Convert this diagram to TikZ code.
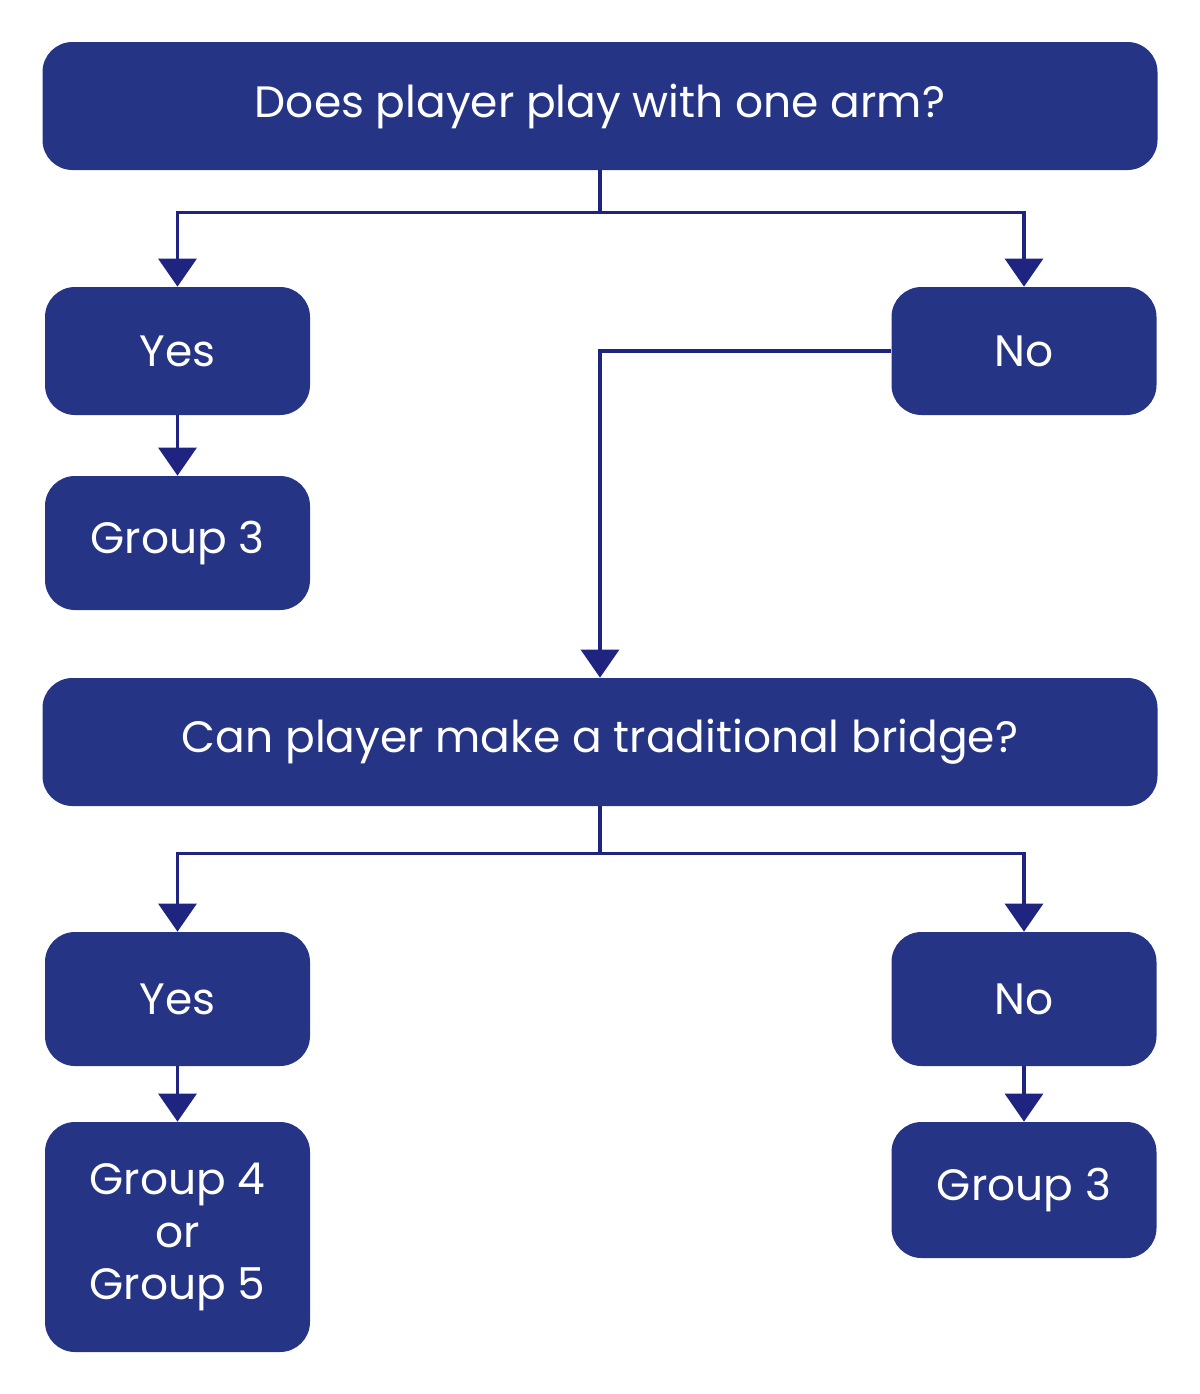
\documentclass[tikz,border=0pt]{standalone}
\usepackage{fontspec}
\setmainfont{Poppins}
\usetikzlibrary{arrows.meta,positioning,calc}
\definecolor{flowNavy}{RGB}{38,52,133}
\definecolor{lineNavy}{RGB}{30,36,128}

\begin{document}
\begin{tikzpicture}[
    every node/.style={font=\fontsize{25}{29.8}\selectfont, align=center,
      rounded corners=0.6cm, inner sep=2pt},
    box/.style={fill=flowNavy, text=white, minimum width=5.3cm, minimum height=2.56cm},
    wide/.style={box, minimum width=22.3cm},
    link/.style={lineNavy, line width=1.8pt, -{Triangle[width=0.76cm, length=0.56cm]}}
  ]
    \useasboundingbox (0,0) rectangle (24,-27.88);
    % Questions
    \node[wide] (q1) at (12,-2.12) {Does player play with one arm?};
    \node[wide] (q2) at (12,-14.84) {Can player make a traditional bridge?};
    % Answers
    \node[box] (yes1) at (3.55,-7.02) {Yes};
    \node[box] (no1) at (20.48,-7.02) {No};
    \node[box, minimum height=2.68cm] (yes2) at (3.55,-19.98) {Yes};
    \node[box, minimum height=2.68cm] (no2) at (20.48,-19.98) {No};
    % Groups
    \node[box, minimum height=2.68cm] (g3a) at (3.55,-10.86) {Group 3};
    \node[box, minimum height=4.6cm] (g45) at (3.55,-24.74) {Group 4\\or\\Group 5};
    \node[box, minimum height=2.72cm] (g3b) at (20.48,-23.8) {Group 3};
    % Branches
    \coordinate (s1) at ($(q1.south)+(0,-0.84)$);
    \coordinate (s2) at ($(q2.south)+(0,-0.94)$);
    \draw[lineNavy, line width=1.8pt] (q1.south) -- (s1);
    \draw[lineNavy, line width=1.8pt] (q2.south) -- (s2);
    \draw[link] (s1) -| (yes1.north);
    \draw[link] (s1) -| (no1.north);
    \draw[link] (s2) -| (yes2.north);
    \draw[link] (s2) -| (no2.north);
    % Arrows
    \draw[link] (yes1) -- (g3a);
    \draw[link] (no1.west) -| (q2.north);
    \draw[link] (yes2) -- (g45);
    \draw[link] (no2) -- (g3b);
  \end{tikzpicture}
\end{document}
